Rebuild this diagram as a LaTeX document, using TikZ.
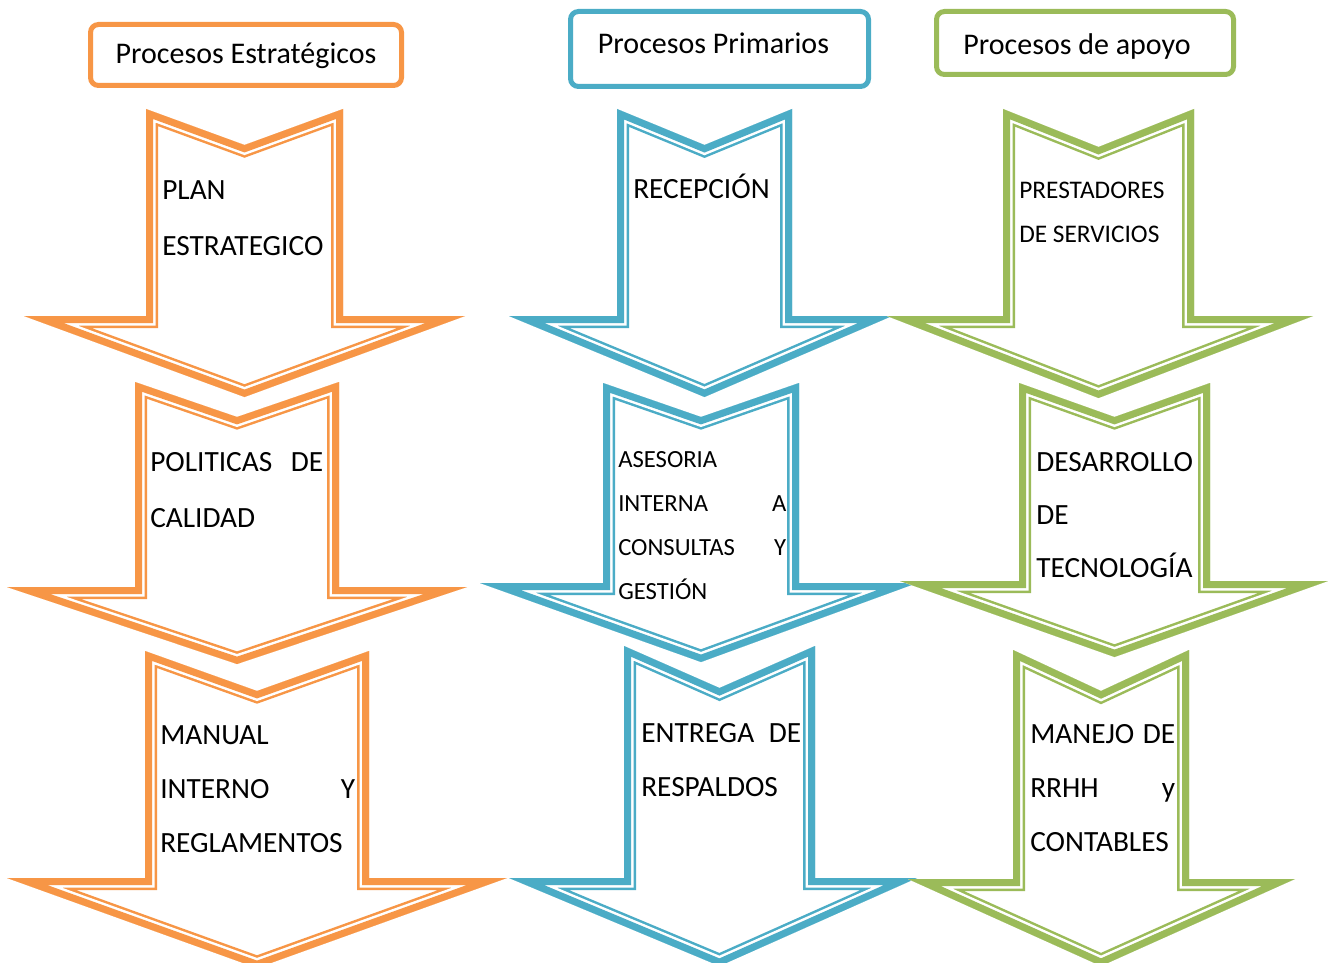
\documentclass[tikz,border=0pt]{standalone}
\usepackage{fontspec}
\setmainfont{Carlito}
\usepackage{tikz}
\definecolor{procorange}{RGB}{247,150,70}
\definecolor{procblue}{RGB}{75,172,198}
\definecolor{procgreen}{RGB}{155,187,89}
\tikzstyle{header} = [rectangle, rounded corners=6pt, line width=3.75pt, fill=white, inner sep=0pt, text centered, font=\fontsize{22.5}{27}\selectfont]
\tikzstyle{proctext} = [anchor=base west, inner sep=0pt, align=left, font=\fontsize{22}{42}\selectfont]
\tikzstyle{arrowpath} = [insert path={(\axl,\aytop) -- (\acx,\aynotch) -- (\axr,\aytop) -- (\axr,\ayshaft) -- (\axbr,\ayshaft) -- (\acx,\aytip) -- (\axbl,\ayshaft) -- (\axl,\ayshaft) -- cycle}]
% thick-thin outlined down arrow: colour, shaft left/right, top, notch, shaft bottom, barb left/right, tip
\newcommand{\procarrow}[9]{%
  \def\axl{#2}\def\axr{#3}\def\aytop{#4}\def\aynotch{#5}\def\ayshaft{#6}%
  \def\axbl{#7}\def\axbr{#8}\def\aytip{#9}%
  \pgfmathsetmacro{\acx}{(#2+#3)/2}%
  \begin{scope}
    \fill[white, arrowpath];
    \clip[arrowpath];
    \draw[#1, line width=18pt, arrowpath];
    \draw[white, line width=14.25pt, arrowpath];
    \draw[#1, line width=10.5pt, arrowpath];
  \end{scope}}
\newcommand{\jline}[3]{\makebox[#1]{#2\hfill#3}}

\begin{document}
\begin{tikzpicture}[x=0.75pt, y=-0.75pt]
\useasboundingbox (0,0) rectangle (1328,963);
% Arrows
\procarrow{procorange}{146}{343}{109}{145}{316}{24}{465}{397}
\procarrow{procorange}{135}{339}{382}{417}{587}{7}{467}{664}
\procarrow{procorange}{145}{369}{651}{691}{878}{7}{507}{968}
\procarrow{procblue}{617}{792}{109}{145}{316}{509}{892}{397}
\procarrow{procblue}{603}{799}{383}{417}{583}{480}{917}{662}
\procarrow{procblue}{624}{815}{646}{688}{878}{509}{917}{966}
\procarrow{procgreen}{1003}{1194}{109}{147}{316}{887}{1313}{398}
\procarrow{procgreen}{1019}{1210}{383}{417}{581}{900}{1328}{657}
\procarrow{procgreen}{1013}{1189}{650}{691}{879}{908}{1295}{966}

% Headers
\node (estrategicos) [header, draw=procorange, minimum width=233.25pt, minimum height=45.75pt, text height=15pt, text depth=1.5pt] at (246,55) {Procesos Estratégicos};
\node (primarios) [header, draw=procblue, minimum width=223.5pt, minimum height=56.25pt, text height=12pt, text depth=4.5pt] at (719.5,49) {\mbox{Procesos Primarios\hspace{9pt}}};
\node (apoyo) [header, draw=procgreen, minimum width=222.75pt, minimum height=47.25pt, text height=18pt, text depth=0pt] at (1085,43) {\mbox{Procesos de apoyo\hspace{12pt}}};

% Texts
\node (plan) [proctext] at (162,255) {PLAN\\ESTRATEGICO};
\node (politicas) [proctext] at (150,527) {\jline{129.75pt}{POLITICAS}{DE}\\CALIDAD};
\node (manual) [proctext, font=\fontsize{22}{40.5}\selectfont] at (160,852) {MANUAL\\\jline{146.25pt}{INTERNO}{Y}\\REGLAMENTOS};
\node (recepcion) [proctext] at (633,199) {RECEPCIÓN};
\node (asesoria) [proctext, font=\fontsize{18.5}{33}\selectfont] at (618,599) {ASESORIA\\\jline{126pt}{INTERNA}{A}\\\jline{126pt}{CONSULTAS}{Y}\\GESTIÓN};
\node (entrega) [proctext, font=\fontsize{22}{40.5}\selectfont] at (641,796) {\jline{120pt}{ENTREGA}{DE}\\RESPALDOS};
\node (prestadores) [proctext, font=\fontsize{19}{33}\selectfont] at (1019,243) {PRESTADORES\\DE SERVICIOS};
\node (desarrollo) [proctext, font=\fontsize{22}{39.75}\selectfont] at (1036,577) {DESARROLLO\\DE\\TECNOLOGÍA};
\node (manejo) [proctext, font=\fontsize{22}{40.5}\selectfont] at (1030,851) {\jline{108.75pt}{MANEJO}{DE}\\\jline{108.75pt}{RRHH}{y}\\CONTABLES};
\end{tikzpicture}
\end{document}
